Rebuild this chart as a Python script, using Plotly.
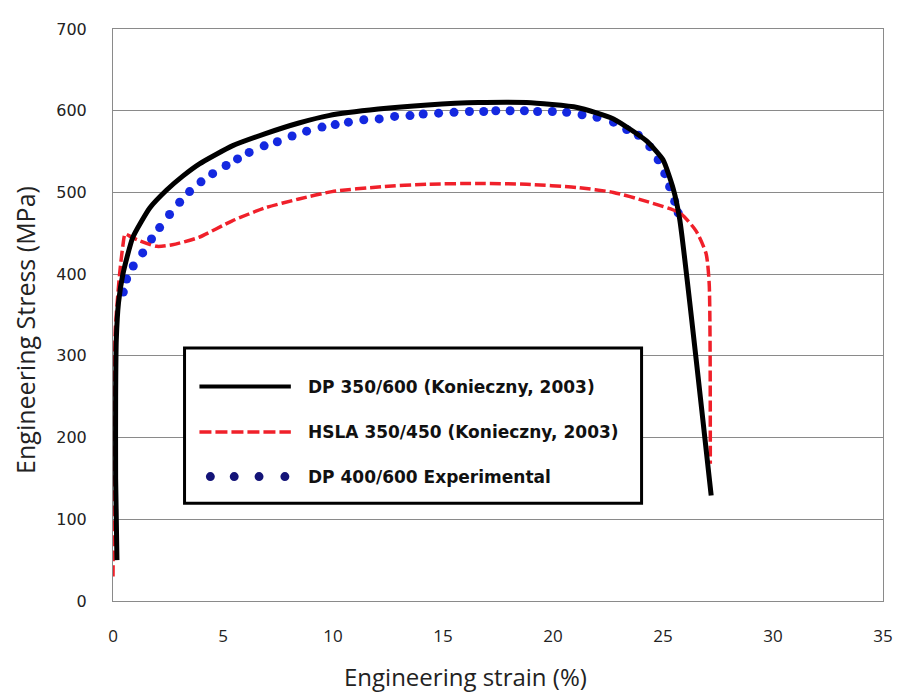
import plotly.graph_objects as go

# ---- data ----
dp350_strain = [0.18, 0.12, 0.12, 0.15, 0.25, 0.45, 0.90, 1.67, 2.44, 3.17, 3.93, 5.42, 6.93,
                8.45, 9.80, 12.06, 14.30, 16.60, 18.80, 21.10, 22.75, 24.25, 25.00, 25.46,
                25.76, 27.19]
dp350_stress = [50, 150, 250, 320, 365, 400, 445, 481, 503, 520, 535, 557, 572,
                585, 594, 602, 607, 610, 610, 604, 590, 563, 540, 505,
                467, 129]

hsla_strain = [0.00, 0.05, 0.10, 0.30, 0.45, 0.55, 0.80, 1.10, 2.00, 2.70, 3.90, 5.40, 6.90,
               8.45, 9.95, 12.20, 14.30, 16.60, 18.80, 21.10, 22.75, 24.25, 25.76, 26.50,
               26.96, 27.10, 27.15]
hsla_stress = [30, 200, 330, 400, 435, 449, 446, 442, 434, 436, 445, 465, 481,
               492, 501, 507, 510, 511, 510, 506, 500, 489, 475, 453,
               425, 388, 168]

exp_strain = [0.47, 0.62, 0.92, 1.35, 1.75, 2.12, 2.57, 3.03, 3.48, 4.00, 4.53, 5.14, 5.66,
              6.19, 6.87, 7.47, 8.14, 8.80, 9.50, 10.10, 10.70, 11.40, 12.10, 12.80, 13.50,
              14.10, 14.80, 15.50, 16.20, 16.85, 17.40, 18.05, 18.70, 19.30, 19.97, 20.62,
              21.32, 22.00, 22.75, 23.35, 23.88, 24.40, 24.78, 25.08, 25.30, 25.53, 25.69]
exp_stress = [378, 394, 410, 426, 443, 457, 473, 488, 501, 513, 523, 533, 541,
              549, 557, 562, 569, 575, 580, 583, 586, 589, 590, 593, 594,
              596, 597, 598, 599, 599, 600, 600, 600, 599, 599, 598,
              595, 592, 586, 577, 570, 556, 540, 523, 507, 489, 475]

series_names = ["DP 350/600 (Konieczny, 2003)",
                "HSLA 350/450 (Konieczny, 2003)",
                "DP 400/600 Experimental"]

x_ticks = [0, 5, 10, 15, 20, 25, 30, 35]
y_ticks = [0, 100, 200, 300, 400, 500, 600, 700]

BLACK = "#000000"
RED = "#f0202a"
BLUE = "#1428e0"
LEG_BLUE = "#141478"
GRID = "#8a8a8a"

fig = go.Figure()
fig.add_trace(go.Scatter(x=exp_strain, y=exp_stress, mode="markers", name=series_names[2],
                         marker=dict(color=BLUE, size=9, line=dict(width=0)),
                         showlegend=False))
fig.add_trace(go.Scatter(x=hsla_strain, y=hsla_stress, mode="lines", name=series_names[1],
                         line=dict(color=RED, width=3.5, dash="11px,4px", shape="spline",
                                   smoothing=0.6),
                         showlegend=False))
fig.add_trace(go.Scatter(x=dp350_strain, y=dp350_stress, mode="lines", name=series_names[0],
                         line=dict(color=BLACK, width=5, shape="spline", smoothing=0.5),
                         showlegend=False))

# page body has an 8px margin: figure coords = screen coords - 8
OFF = 8
FW, FH = 897, 687
L, T, W, H = 105, 14, 775, 579
def px(xs):
    return (xs - OFF - L) / W
def py(ys):
    return (T + H - (ys - OFF)) / H

shapes = [dict(type="rect", xref="paper", yref="paper",
               x0=px(185), x1=px(645), y0=py(502), y1=py(345),
               line=dict(color="#000000", width=3), fillcolor="white", layer="above")]
shapes.append(dict(type="line", xref="paper", yref="paper", x0=px(200), x1=px(292),
                   y0=py(384), y1=py(384), line=dict(color=BLACK, width=4), layer="above"))
shapes.append(dict(type="line", xref="paper", yref="paper", x0=px(200), x1=px(292),
                   y0=py(430), y1=py(430), line=dict(color=RED, width=3.5, dash="12px,4px"),
                   layer="above"))
for cx in [211, 235, 260, 286]:
    shapes.append(dict(type="circle", xref="paper", yref="paper",
                       x0=px(cx - 4.5), x1=px(cx + 4.5), y0=py(479.5), y1=py(470.5),
                       fillcolor=LEG_BLUE, line=dict(width=0), layer="above"))

annotations = []
for name, yc in zip(series_names, [384, 430, 475]):
    annotations.append(dict(text="<b>" + name + "</b>", xref="paper", yref="paper",
                            x=px(307), y=py(yc), xanchor="left", yanchor="middle",
                            showarrow=False,
                            font=dict(family="DejaVu Sans", size=17, color="#111111")))

annotations.append(dict(text="Engineering strain (%)", xref="paper", yref="paper",
                        x=px(468), y=py(677), xanchor="center", yanchor="middle",
                        showarrow=False,
                        font=dict(family="Open Sans", size=24, color="#222222")))
annotations.append(dict(text="Engineering Stress (MPa)", xref="paper", yref="paper",
                        x=px(25), y=py(327), xanchor="center", yanchor="middle",
                        textangle=-90, showarrow=False,
                        font=dict(family="Open Sans", size=25, color="#222222")))

fig.update_layout(
    width=FW, height=FH,
    margin=dict(l=L, r=FW - L - W, t=T, b=FH - T - H),
    paper_bgcolor="white", plot_bgcolor="white",
    showlegend=False,
    shapes=shapes, annotations=annotations,
    xaxis=dict(range=[0, 35], tickvals=x_ticks, ticktext=[str(v) for v in x_ticks],
               showgrid=False, zeroline=False, showline=True, linecolor=GRID, linewidth=1,
               mirror=True, ticks="", ticklabelstandoff=20,
               tickfont=dict(family="Liberation Sans Narrow, Open Sans", size=17,
                             color="#222222")),
    yaxis=dict(range=[0, 700], tickvals=y_ticks, ticktext=[str(v) for v in y_ticks],
               showgrid=True, gridcolor=GRID, gridwidth=1, zeroline=False,
               showline=True, linecolor=GRID, linewidth=1, mirror=True, ticks="",
               ticklabelstandoff=22,
               tickfont=dict(family="DejaVu Sans", size=16, color="#222222")),
)

fig.write_html("out.html")
